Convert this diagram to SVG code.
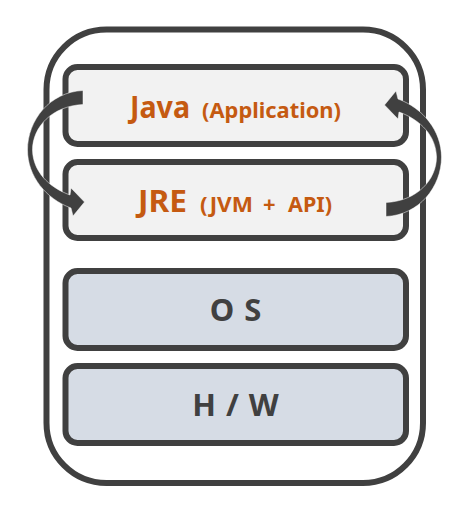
<svg xmlns="http://www.w3.org/2000/svg" width="476" height="508" viewBox="0 0 476 508">
<defs>
<style>
.outer{fill:#ffffff;stroke:#404040;stroke-width:6}
.box{stroke:#404040;stroke-width:6}
.light{fill:#f2f2f2}
.blue{fill:#d6dce5}
.title{font-family:"Noto Sans","Liberation Sans",sans-serif;font-weight:bold;fill:#c55a11}
.big{font-size:31px}
.small{font-size:22px}
.dark{font-family:"Noto Sans","Liberation Sans",sans-serif;font-weight:bold;fill:#404040;font-size:31px}
.arrow{fill:#404040;stroke:#ffffff;stroke-width:0.5}
</style>
<path id="curve" d="M 83 90.5 C 50 92, 27.5 120, 27.5 150 C 27.5 176, 46 199, 71 208 L 73 216 L 84.5 202 L 71 188 L 70 195 C 48 187, 33 171, 32.5 150 C 32.5 127, 52 106, 83 104.5 Z"/>
</defs>
<rect class="outer" x="46.5" y="29.5" width="376.5" height="453.5" rx="60" ry="60"/>
<g id="java">
<rect class="box light" x="65.5" y="67" width="340.5" height="77" rx="12" ry="12"/>
<text class="title big" x="130" y="118" textLength="60" lengthAdjust="spacingAndGlyphs">Java</text>
<text class="title small" x="202" y="118" textLength="139" lengthAdjust="spacingAndGlyphs">(Application)</text>
</g>
<g id="jre">
<rect class="box light" x="65.5" y="162" width="340.5" height="76" rx="12" ry="12"/>
<text class="title big" x="138" y="212" textLength="49" lengthAdjust="spacingAndGlyphs">JRE</text>
<text class="title small" y="212"><tspan x="200" textLength="53" lengthAdjust="spacingAndGlyphs">(JVM</tspan><tspan x="263">+</tspan><tspan x="288" textLength="44" lengthAdjust="spacingAndGlyphs">API)</tspan></text>
</g>
<g id="os">
<rect class="box blue" x="65.5" y="271" width="340.5" height="77" rx="12" ry="12"/>
<text class="dark" x="236" y="321" text-anchor="middle" xml:space="preserve" letter-spacing="1">O S</text>
</g>
<g id="hw">
<rect class="box blue" x="65.5" y="366" width="340.5" height="77" rx="12" ry="12"/>
<text class="dark" x="236" y="416" text-anchor="middle" xml:space="preserve" letter-spacing="1">H / W</text>
</g>
<g id="connectors">
<use href="#curve" class="arrow"/>
<use href="#curve" class="arrow" transform="rotate(180 234.5 153.5)"/>
</g>
</svg>
